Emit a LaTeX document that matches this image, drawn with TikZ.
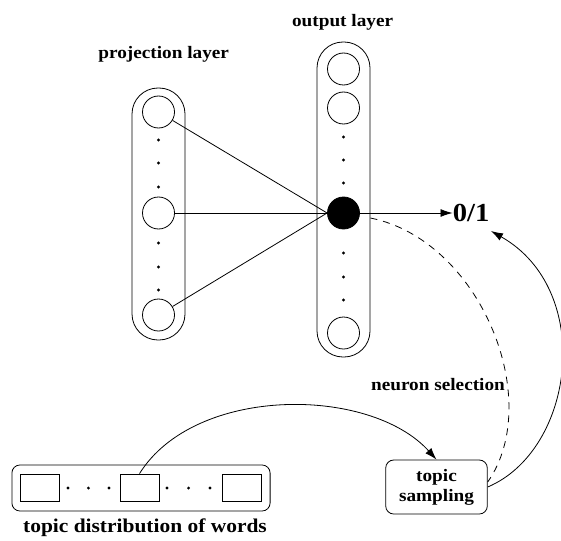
\documentclass[tikz,border=0pt]{standalone}
\usepackage{fontspec}
\setmainfont{Liberation Serif}[FakeStretch=1.1]
\usetikzlibrary{arrows.meta}
\begin{document}
\begin{tikzpicture}[x=1pt,y=-1pt, line width=0.8pt,
 pill/.style={draw, rounded corners=26pt, minimum width=53pt, inner sep=0pt},
 unit/.style={draw, circle, minimum size=32pt, inner sep=0pt},
 hotunit/.style={unit, fill=black},
 dotmark/.style={circle, fill=black, minimum size=3.2pt, inner sep=0pt},
 lab/.style={font=\fontsize{17.5}{20}\selectfont\bfseries},
 wbox/.style={draw, minimum width=39pt, minimum height=27pt, inner sep=0pt},
 arr/.style={-{Latex[length=12pt,width=8pt]}}]
\useasboundingbox (0,0) rectangle (561,540);

% projection layer
\node[pill, minimum height=252pt] (proj) at (158.5,214) {};
\node[unit] (p1) at (158.5,112) {};
\node[unit] (p2) at (158.5,213) {};
\node[unit] (p3) at (158.5,315) {};
\foreach \y in {140,163,187,243,267,290} \node[dotmark] (pd\y) at (158.5,\y) {};

% output layer
\node[pill, minimum height=315pt] (outl) at (343.5,199.5) {};
\node[unit] (o1) at (343.5,69) {};
\node[unit] (o2) at (343.5,108) {};
\node[hotunit] (hot) at (343.5,213) {};
\node[unit] (o3) at (343.5,333) {};
\foreach \y in {137,160,183,253,277,300} \node[dotmark] (od\y) at (343.5,\y) {};

% labels
\node[lab] (projlab) at (163.7,54) {projection layer};
\node[lab] (outlab) at (342.6,22.7) {output layer};
\node[font=\fontsize{26}{28}\selectfont\bfseries, inner sep=0pt, anchor=west] (zero) at (452.5,213) {0/1};
\coordinate (ztip) at (491,231);

% topic sampling
\node[draw, rounded corners=8pt, minimum width=101.6pt, minimum height=54pt, lab, align=center, inner sep=0pt] (ts) at (436.5,487) {topic\\sampling};
\node[lab] (ns) at (438,385) {neuron selection};

% topic distribution
\node[draw, rounded corners=8pt, minimum width=258.2pt, minimum height=46pt] (tdist) at (141,488) {};
\node[wbox] (w1) at (40,487.5) {};
\node[wbox] (w2) at (139.5,487.5) {};
\node[wbox] (w3) at (241.5,487.5) {};
\foreach \x in {68,88.4,109,167,188.6,210} \node[dotmark] (td\x) at (\x,488) {};
\node[font=\fontsize{19.5}{22}\selectfont\bfseries] (tdlab) at (145,528) {topic distribution of words};

% connections
\draw (p1) -- (hot.west);
\draw (p2) -- (hot.west);
\draw (p3) -- (hot.west);
\draw[arr] (hot.east) -- (zero.west);
\draw[dash pattern=on 7pt off 6pt, shorten <=11pt] (hot.-10) .. controls (480,240) and (545,400) .. ([yshift=5pt]ts.east);
\draw[arr] (ts.east) .. controls (575,450) and (595,290) .. (ztip);
\draw[arr] (w2.north) .. controls (195,385) and (370,386) .. (ts.north);
\end{tikzpicture}
\end{document}
